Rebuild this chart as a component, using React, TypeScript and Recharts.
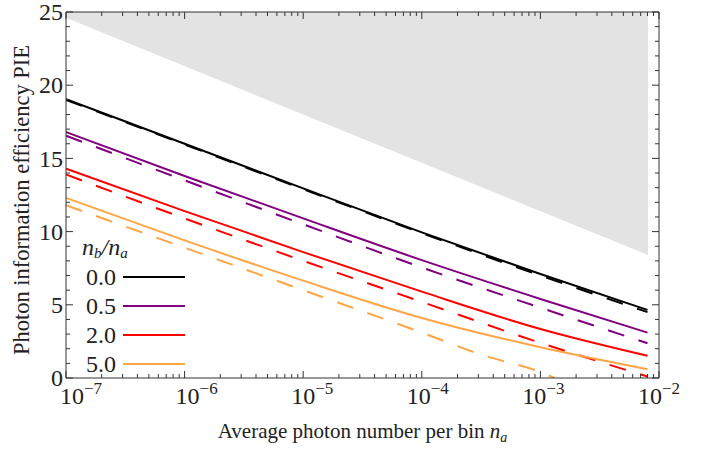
import React from 'react';
import { ComposedChart, Line, Area, XAxis, YAxis, Legend } from 'recharts';

const FONT = '"Liberation Serif", "DejaVu Serif", serif';
const AXIS = '#333333';

// x positions (average photon number per bin)
const X_STD = [1e-7, 1e-6, 1e-5, 1e-4, 1e-3, 8e-3];
const X_ORANGE_DASH = [1e-7, 1e-6, 1e-5, 1e-4, 3.16e-4, 1e-3, 1.32e-3];

// series values (PIE)
const BLACK_SOLID = [19.05, 16.0, 12.95, 9.95, 7.1, 4.65];
const BLACK_DASH = [19.0, 15.95, 12.9, 9.9, 7.0, 4.5];
const PURPLE_SOLID = [16.8, 13.8, 10.9, 8.05, 5.4, 3.1];
const PURPLE_DASH = [16.55, 13.5, 10.5, 7.55, 4.8, 2.37];
const RED_SOLID = [14.3, 11.4, 8.6, 5.9, 3.35, 1.52];
const RED_DASH = [13.9, 10.9, 8.0, 5.2, 2.4, 0.1];
const ORANGE_SOLID = [12.3, 9.4, 6.65, 4.1, 2.1, 0.6];
const ORANGE_DASH = [11.8, 8.9, 6.0, 3.1, 1.6, 0.4, 0];

// shaded (bound) region
const BOUND_X = [1e-7, 8.07e-3];
const BOUND_LOW = [24.6, 8.4];
const BOUND_HIGH = [25, 25];

// legend
const LEGEND_LABELS = ['0.0', '0.5', '2.0', '5.0'];
const COLORS = ['#000000', '#800080', '#ff0000', '#ffa545'];

// ticks
const X_MAJOR = [1e-7, 1e-6, 1e-5, 1e-4, 1e-3, 1e-2];
const X_MINOR_MULT = [2, 3, 4, 5, 6, 7, 8, 9];
const X_TICKS: number[] = [];
X_MAJOR.forEach((d, i) => {
  X_TICKS.push(d);
  if (i < X_MAJOR.length - 1) X_MINOR_MULT.forEach((m) => X_TICKS.push(m * d));
});
const Y_TICKS = Array.from({ length: 26 }, (_, i) => i);
const Y_MAJOR = [0, 5, 10, 15, 20, 25];

const mk = (xs: number[], ys: number[]) => xs.map((x, i) => ({ x, y: ys[i] }));
const boundData = BOUND_X.map((x, i) => ({ x, range: [BOUND_LOW[i], BOUND_HIGH[i]] }));

const isMajorX = (v: number) => X_MAJOR.some((m) => Math.abs(m - v) / m < 1e-6);

const XTickBottom = (props: any) => {
  const { x, y, payload } = props;
  const v = payload.value;
  const major = isMajorX(v);
  const exp = Math.round(Math.log10(v));
  return (
    <g>
      <line x1={x} x2={x} y1={y} y2={y - (major ? 7 : 4)} stroke={AXIS} strokeWidth={1} />
      {major && (
        <text x={x + (-2 - exp) * 3} y={y + 26} textAnchor="middle" fontSize={24} fontFamily={FONT} fill="#222">
          10<tspan dy={-10} fontSize={17}>{`\u2212${-exp}`}</tspan>
        </text>
      )}
    </g>
  );
};

const XTickTop = (props: any) => {
  const { x, y, payload } = props;
  const major = isMajorX(payload.value);
  return <line x1={x} x2={x} y1={y} y2={y + (major ? 7 : 4)} stroke={AXIS} strokeWidth={1} />;
};

const YTickLeft = (props: any) => {
  const { x, y, payload } = props;
  const major = Y_MAJOR.includes(payload.value);
  return (
    <g>
      <line x1={x} x2={x + (major ? 7 : 4)} y1={y} y2={y} stroke={AXIS} strokeWidth={1} />
      {major && (
        <text x={x - 3} y={y} dy="0.34em" textAnchor="end" fontSize={24} fontFamily={FONT} fill="#222">
          {payload.value}
        </text>
      )}
    </g>
  );
};

const YTickRight = (props: any) => {
  const { x, y, payload } = props;
  const major = Y_MAJOR.includes(payload.value);
  return <line x1={x} x2={x - (major ? 7 : 4)} y1={y} y2={y} stroke={AXIS} strokeWidth={1} />;
};

const YTitle = (props: any) => {
  const vb = props.viewBox || { x: 0, y: 12, width: 66, height: 366 };
  const cx = vb.x + 21;
  const cy = vb.y + vb.height / 2 + 5;
  return (
    <text x={cx} y={cy} transform={`rotate(-90, ${cx}, ${cy})`} textAnchor="middle" dominantBaseline="central" fontSize={22.5} fontFamily={FONT} fill="#222">
      Photon information efficiency PIE
    </text>
  );
};

const XTitle = (props: any) => {
  const vb = props.viewBox || { x: 66, y: 378, width: 593, height: 71 };
  return (
    <text x={vb.x + vb.width / 2} y={vb.y + 60} textAnchor="middle" fontSize={21} fontFamily={FONT} fill="#222">
      Average photon number per bin <tspan fontStyle="italic">n</tspan>
      <tspan fontStyle="italic" fontSize={14} dy={4}>a</tspan>
    </text>
  );
};

const LegendContent = () => (
  <div style={{ fontFamily: FONT, color: '#222' }}>
    <div style={{ height: 27, lineHeight: '24px', fontSize: 24, fontStyle: 'italic', paddingLeft: 2, whiteSpace: 'nowrap' }}>
      n<sub style={{ fontSize: 15, verticalAlign: '-3px', lineHeight: 0 }}>b</sub>/n<sub style={{ fontSize: 15, verticalAlign: '-3px', lineHeight: 0 }}>a</sub>
    </div>
    {LEGEND_LABELS.map((lab, i) => (
      <div key={lab} style={{ display: 'flex', alignItems: 'center', height: 29 }}>
        <span style={{ width: 36, textAlign: 'right', fontSize: 24, lineHeight: '26px' }}>{lab}</span>
        <svg width={62} height={10} style={{ marginLeft: 7 }}>
          <line x1={0} x2={62} y1={5} y2={5} stroke={COLORS[i]} strokeWidth={2} />
        </svg>
      </div>
    ))}
  </div>
);

export default function App() {
  const series = [
    { data: mk(X_STD, BLACK_SOLID), color: COLORS[0], dash: undefined },
    { data: mk(X_STD, BLACK_DASH), color: COLORS[0], dash: '17 15' },
    { data: mk(X_STD, PURPLE_SOLID), color: COLORS[1], dash: undefined },
    { data: mk(X_STD, PURPLE_DASH), color: COLORS[1], dash: '17 15' },
    { data: mk(X_STD, RED_SOLID), color: COLORS[2], dash: undefined },
    { data: mk(X_STD, RED_DASH), color: COLORS[2], dash: '17 15' },
    { data: mk(X_STD, ORANGE_SOLID), color: COLORS[3], dash: undefined },
    { data: mk(X_ORANGE_DASH, ORANGE_DASH), color: COLORS[3], dash: '17 15' },
  ];
  return (
    <div style={{ position: 'absolute', left: 0, top: 0, width: 709, height: 449, background: '#fff' }}>
      <ComposedChart width={709} height={449} margin={{ top: 10, right: 40, bottom: 0, left: 0 }}>
        <XAxis
          xAxisId="b"
          type="number"
          dataKey="x"
          scale="log"
          domain={[1e-7, 1e-2]}
          allowDataOverflow
          ticks={X_TICKS}
          interval={0}
          tickSize={0}
          tickMargin={0}
          tickLine={false}
          tick={XTickBottom}
          height={71}
          axisLine={{ stroke: AXIS, strokeWidth: 1 }}
          label={<XTitle />}
        />
        <XAxis
          xAxisId="t"
          orientation="top"
          type="number"
          dataKey="x"
          scale="log"
          domain={[1e-7, 1e-2]}
          allowDataOverflow
          ticks={X_TICKS}
          interval={0}
          tickSize={0}
          tickMargin={0}
          tickLine={false}
          tick={XTickTop}
          height={2}
          axisLine={{ stroke: AXIS, strokeWidth: 1 }}
        />
        <YAxis
          yAxisId="l"
          type="number"
          domain={[0, 25]}
          allowDataOverflow
          ticks={Y_TICKS}
          interval={0}
          tickSize={0}
          tickMargin={0}
          tickLine={false}
          tick={YTickLeft}
          width={66}
          axisLine={{ stroke: AXIS, strokeWidth: 1 }}
          label={<YTitle />}
        />
        <YAxis
          yAxisId="r"
          orientation="right"
          type="number"
          domain={[0, 25]}
          allowDataOverflow
          ticks={Y_TICKS}
          interval={0}
          tickSize={0}
          tickMargin={0}
          tickLine={false}
          tick={YTickRight}
          width={10}
          axisLine={{ stroke: AXIS, strokeWidth: 1 }}
        />
        <Area
          xAxisId="b"
          yAxisId="l"
          data={boundData}
          dataKey="range"
          type="linear"
          stroke="none"
          fill="#e3e3e3"
          fillOpacity={1}
          isAnimationActive={false}
          dot={false}
          activeDot={false}
        />
        {series.map((s, i) => (
          <Line
            key={i}
            xAxisId="b"
            yAxisId="l"
            data={s.data}
            dataKey="y"
            type="monotone"
            stroke={s.color}
            strokeWidth={2}
            strokeDasharray={s.dash}
            dot={false}
            activeDot={false}
            isAnimationActive={false}
          />
        ))}
        <Legend
          layout="vertical"
          align="center"
          verticalAlign="middle"
          content={<LegendContent />}
          wrapperStyle={{ left: 80, top: 235, width: 140, height: 150 }}
        />
      </ComposedChart>
    </div>
  );
}
